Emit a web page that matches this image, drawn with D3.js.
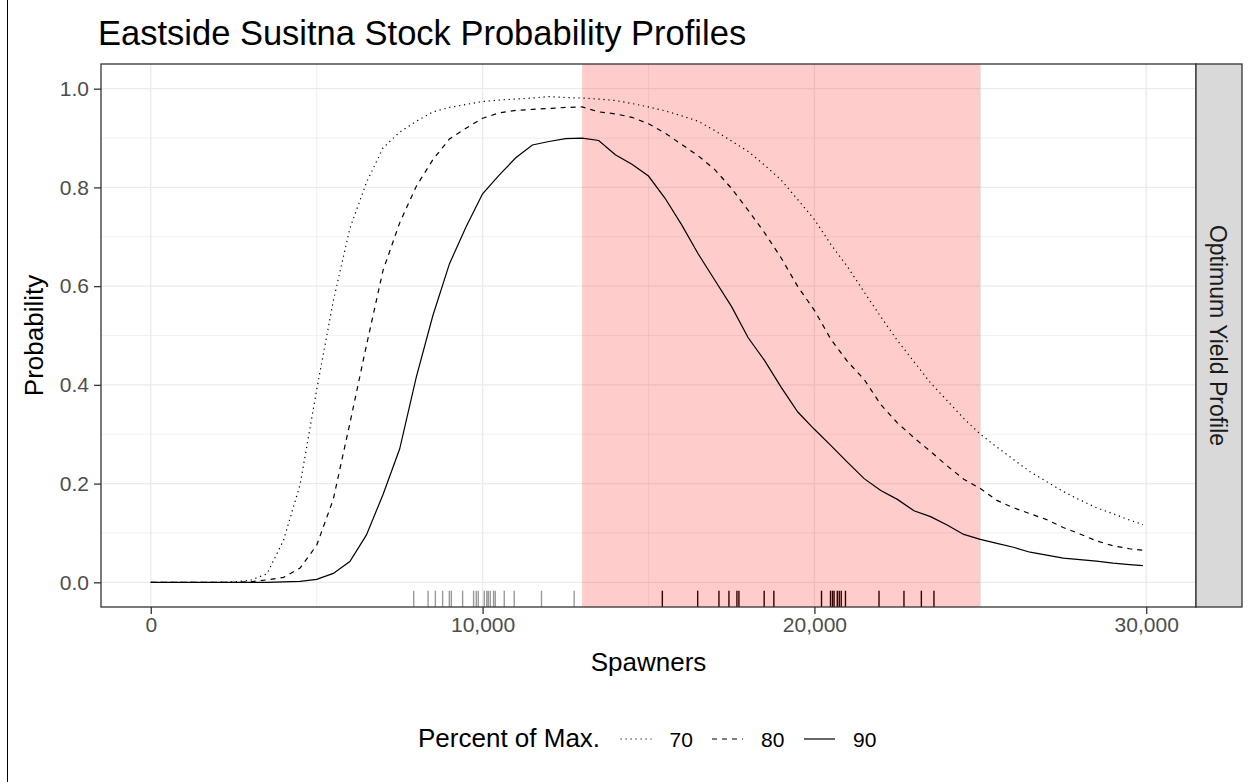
<!DOCTYPE html>
<html><head><meta charset="utf-8">
<script src="https://cdn.jsdelivr.net/npm/d3@7"></script>
<style>body{margin:0;background:#fff;} text{font-family:"Liberation Sans",Arial,sans-serif;}</style>
</head><body>
<svg id="chart" width="1255" height="782"></svg>
<script>
// ---- data ----
const spawners = [0,500,1000,1500,2000,2500,3000,3500,4000,4500,5000,5500,6000,6500,7000,7500,8000,8500,9000,9500,
 10000,10500,11000,11500,12000,12500,13000,13500,14000,14500,15000,15500,16000,16500,17000,17500,18000,18500,19000,19500,
 20000,20500,21000,21500,22000,22500,23000,23500,24000,24500,25000,25500,26000,26500,27000,27500,28000,28500,29000,29500,29900];
const p70 = [0,0,0,0,0,0.001,0.004,0.017,0.085,0.198,0.39,0.57,0.717,0.81,0.88,0.912,0.934,0.953,0.962,0.968,
 0.974,0.977,0.979,0.981,0.984,0.982,0.981,0.979,0.976,0.970,0.963,0.955,0.945,0.934,0.915,0.894,0.873,0.845,0.815,0.775,
 0.735,0.684,0.639,0.588,0.538,0.490,0.447,0.404,0.368,0.332,0.300,0.274,0.249,0.224,0.204,0.184,0.167,0.151,0.139,0.126,0.117];
const p80 = [0,0,0,0,0,0,0.001,0.005,0.010,0.029,0.075,0.168,0.322,0.480,0.632,0.728,0.802,0.856,0.898,0.920,
 0.940,0.951,0.956,0.958,0.960,0.962,0.963,0.953,0.949,0.942,0.929,0.910,0.887,0.864,0.836,0.798,0.754,0.708,0.657,0.599,
 0.551,0.492,0.447,0.411,0.360,0.323,0.293,0.265,0.236,0.209,0.190,0.166,0.151,0.139,0.127,0.111,0.098,0.084,0.074,0.068,0.065];
const p90 = [0,0,0,0,0,0,0,0,0.001,0.002,0.006,0.018,0.042,0.096,0.178,0.270,0.415,0.540,0.645,0.720,
 0.787,0.825,0.860,0.886,0.893,0.899,0.900,0.895,0.866,0.847,0.823,0.778,0.724,0.665,0.612,0.559,0.496,0.449,0.395,0.345,
 0.310,0.277,0.243,0.210,0.186,0.168,0.145,0.133,0.116,0.097,0.087,0.079,0.071,0.061,0.055,0.049,0.046,0.043,0.039,0.036,0.034];
const rugOutside = [7924,8357,8577,8796,8998,9058,9398,9729,9810,9870,10051,10126,10172,10232,10331,10382,10653,10954,11775,12760];
const rugInside = [15417,16482,17123,17424,17665,17725,18486,18778,20214,20485,20545,20593,20689,20749,20809,20936,21947,22699,23223,23603];
const goalRange = [13000, 25000];
const xTicks = [0,10000,20000,30000];
const xMinor = [5000,15000,25000];
const yTicks = [0,0.2,0.4,0.6,0.8,1.0];
const yMinor = [0.1,0.3,0.5,0.7,0.9];
const seriesNames = ["70","80","90"];
const title = "Eastside Susitna Stock Probability Profiles";
const stripLabel = "Optimum Yield Profile";

// ---- layout ----
const P = {l:101, r:1196, t:64, b:607};
const svg = d3.select("#chart");
const x = d3.scaleLinear().domain([-1500, 31500]).range([P.l, P.r]);
const y = d3.scaleLinear().domain([-0.05, 1.05]).range([P.b, P.t]);
const dashes = {"70":"1.25,3.75","80":"5,5","90":null};
const seriesData = {"70":p70,"80":p80,"90":p90};

// outer left frame line
svg.append("line").attr("x1",7.5).attr("x2",7.5).attr("y1",0).attr("y2",782).attr("stroke","#000").attr("stroke-width",1);

// panel background
svg.append("rect").attr("x",P.l).attr("y",P.t).attr("width",P.r-P.l).attr("height",P.b-P.t).attr("fill","#fff");

const grid = svg.append("g");
xMinor.forEach(v=>grid.append("line").attr("x1",x(v)).attr("x2",x(v)).attr("y1",P.t).attr("y2",P.b).attr("stroke","#ebebeb").attr("stroke-width",0.7));
yMinor.forEach(v=>grid.append("line").attr("y1",y(v)).attr("y2",y(v)).attr("x1",P.l).attr("x2",P.r).attr("stroke","#ebebeb").attr("stroke-width",0.7));
xTicks.forEach(v=>grid.append("line").attr("x1",x(v)).attr("x2",x(v)).attr("y1",P.t).attr("y2",P.b).attr("stroke","#ebebeb").attr("stroke-width",1.3));
yTicks.forEach(v=>grid.append("line").attr("y1",y(v)).attr("y2",y(v)).attr("x1",P.l).attr("x2",P.r).attr("stroke","#ebebeb").attr("stroke-width",1.3));

// rugs
const rugLen = (P.b-P.t)*0.03;
svg.append("g").selectAll("line").data(rugOutside).join("line")
  .attr("x1",d=>x(d)).attr("x2",d=>x(d)).attr("y1",P.b).attr("y2",P.b-rugLen)
  .attr("stroke","rgba(0,0,0,0.4)").attr("stroke-width",1.4);
svg.append("g").selectAll("line").data(rugInside).join("line")
  .attr("x1",d=>x(d)).attr("x2",d=>x(d)).attr("y1",P.b).attr("y2",P.b-rugLen)
  .attr("stroke","#000").attr("stroke-width",1.4);

// goal range
svg.append("rect").attr("x",x(goalRange[0])).attr("width",x(goalRange[1])-x(goalRange[0]))
  .attr("y",P.t).attr("height",P.b-P.t).attr("fill","red").attr("fill-opacity",0.2);

// lines
const line = d3.line().x(d=>x(d[0])).y(d=>y(d[1]));
seriesNames.forEach(n=>{
  const pts = spawners.map((s,i)=>[s, seriesData[n][i]]);
  svg.append("path").datum(pts).attr("d",line).attr("fill","none").attr("stroke","#000")
    .attr("stroke-width",1.2).attr("stroke-dasharray",dashes[n]);
});

// panel border
svg.append("rect").attr("x",P.l).attr("y",P.t).attr("width",P.r-P.l).attr("height",P.b-P.t)
  .attr("fill","none").attr("stroke","#333").attr("stroke-width",1.3);

// axes
const fmt = d3.format(",");
const xAxis = svg.append("g").attr("transform",`translate(0,${P.b})`)
  .call(d3.axisBottom(x).tickValues(xTicks).tickFormat(fmt).tickSize(7).tickPadding(3));
xAxis.select(".domain").remove();
xAxis.selectAll("line").attr("stroke","#333").attr("stroke-width",1.3);
xAxis.selectAll("text").attr("fill","#4d4d4d").style("font-size","21px").style("font-family","Liberation Sans, Arial, sans-serif");
const yAxis = svg.append("g").attr("transform",`translate(${P.l},0)`)
  .call(d3.axisLeft(y).tickValues(yTicks).tickFormat(d3.format(".1f")).tickSize(7).tickPadding(5));
yAxis.select(".domain").remove();
yAxis.selectAll("line").attr("stroke","#333").attr("stroke-width",1.3);
yAxis.selectAll("text").attr("fill","#4d4d4d").style("font-size","21px").style("font-family","Liberation Sans, Arial, sans-serif");

// axis titles
svg.append("text").attr("x",(P.l+P.r)/2).attr("y",671).attr("text-anchor","middle").style("font-size","26px").text("Spawners");
svg.append("text").attr("transform",`translate(43,${(P.t+P.b)/2}) rotate(-90)`).attr("text-anchor","middle").style("font-size","26px").text("Probability");

// title
svg.append("text").attr("x",98).attr("y",45).style("font-size","34.5px").attr("fill","#000").text(title);

// strip
svg.append("rect").attr("x",P.r).attr("y",P.t).attr("width",46).attr("height",P.b-P.t)
  .attr("fill","#d9d9d9").attr("stroke","#333").attr("stroke-width",1.3);
svg.append("text").attr("transform",`translate(1209.5,${(P.t+P.b)/2}) rotate(90)`).attr("text-anchor","middle")
  .attr("fill","#1a1a1a").style("font-size","23px").text(stripLabel);

// legend
const lg = svg.append("g");
lg.append("text").attr("x",418).attr("y",747).style("font-size","26px").text("Percent of Max.");
const keyX = [616.5, 708, 800];
seriesNames.forEach((n,i)=>{
  lg.append("line").attr("x1",keyX[i]+4).attr("x2",keyX[i]+35).attr("y1",739).attr("y2",739)
    .attr("stroke","#000").attr("stroke-width",1.2).attr("stroke-dasharray",dashes[n]);
  lg.append("text").attr("x",keyX[i]+53).attr("y",747).style("font-size","21px").attr("fill","#000").text(n);
});
</script>
</body></html>
